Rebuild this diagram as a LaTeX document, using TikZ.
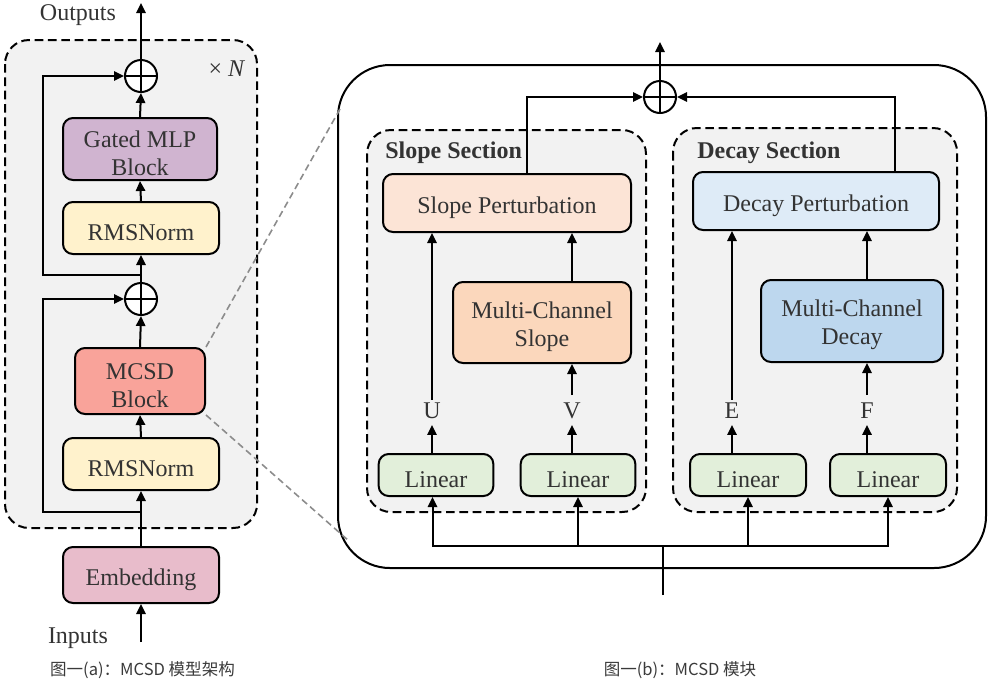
\documentclass[tikz,border=0pt]{standalone}
\usepackage{fontspec}
\setmainfont{Liberation Serif}
\newfontfamily\cjk{Noto Sans CJK SC}
\usetikzlibrary{arrows.meta}
\definecolor{txtgray}{HTML}{333333}
\definecolor{capgray}{HTML}{3A3A3A}
\definecolor{secgray}{HTML}{F2F2F2}
\definecolor{zoomgray}{HTML}{8C8C8C}
\definecolor{embpink}{HTML}{E8BCCB}
\definecolor{normyellow}{HTML}{FFF2CC}
\definecolor{mcsdred}{HTML}{F9A39A}
\definecolor{mlppurple}{HTML}{D0B4D0}
\definecolor{slopelight}{HTML}{FCE4D6}
\definecolor{slopedark}{HTML}{FBD7BC}
\definecolor{decaylight}{HTML}{DEEBF7}
\definecolor{decaydark}{HTML}{BDD7EE}
\definecolor{lingreen}{HTML}{E2EFDA}
\newcommand{\topstrut}{\rule{0pt}{18.5pt}}
\tikzset{
  blk/.style={draw, line width=1.5pt, rounded corners=7.5pt, align=center, text=txtgray,
    font=\fontsize{18}{21}\selectfont, inner sep=0pt,
    execute at begin node={\rule{0pt}{19.5pt}}},
  wire/.style={line width=1.5pt},
  arr/.style={line width=1.5pt, -{Triangle[length=7.5pt,width=7pt]}},
  sect/.style={draw, line width=1.5pt, dash pattern=on 6.5pt off 3.5pt, fill=secgray, rounded corners=18pt},
  plusop/.style={circle, draw, line width=1.5pt, fill=white, minimum size=24pt, inner sep=0pt,
    path picture={\draw[line width=1.5pt] (path picture bounding box.north) -- (path picture bounding box.south)
      (path picture bounding box.west) -- (path picture bounding box.east);}},
  lbl/.style={font=\fontsize{18}{21}\selectfont, text=txtgray, text height=12pt, text depth=0pt,
    inner xsep=2pt, inner ysep=5pt},
  sectitle/.style={font=\fontsize{18}{21}\selectfont\bfseries, text=txtgray, inner sep=0pt, anchor=west},
  zoomline/.style={draw=zoomgray, line width=1.2pt, dash pattern=on 5pt off 3pt},
  capt/.style={font=\cjk\fontsize{12.4}{14}\selectfont, text=capgray, inner sep=0pt},
}
\begin{document}
\begin{tikzpicture}[x=0.75pt,y=-0.75pt]
  \useasboundingbox (0,0) rectangle (991,683);

  % left: model
  \draw[sect] (5,40) rectangle (257,528);
  \node[lbl] (times) at (227,68) {× \textit{N}};

  \node[blk, fill=embpink, minimum width=117pt, minimum height=42pt] (emb) at (141,575) {Embedding};
  \node[blk, fill=normyellow, minimum width=117pt, minimum height=39pt] (rmsa) at (141,464) {RMSNorm};
  \node[blk, fill=mcsdred, minimum width=97.5pt, minimum height=49.5pt] (mcsd) at (140,381) {\topstrut MCSD\\Block};
  \node[plusop] (plusa) at (141,299) {};
  \node[blk, fill=normyellow, minimum width=117pt, minimum height=39pt] (rmsb) at (141,228) {RMSNorm};
  \node[blk, fill=mlppurple, minimum width=115.5pt, minimum height=46.5pt] (mlp) at (140,149) {\topstrut Gated MLP\\Block};
  \node[plusop] (plusb) at (141,76) {};

  \node[lbl] (inputs) at (78,635) {Inputs};
  \node[lbl] (outputs) at (78,12) {Outputs};
  \coordinate (inl) at (141,642);
  \coordinate (outl) at (141,3);
  \coordinate (resa) at (141,512);
  \coordinate (resal) at (43,512);
  \coordinate (resb) at (141,275);
  \coordinate (resbl) at (43,275);

  \draw[arr] (inl) -- (emb.south);
  \draw[arr] (emb.north) -- (rmsa.south);
  \draw[arr] (rmsa.north) -- (mcsd.south);
  \draw[arr] (mcsd.north) -- (plusa.south);
  \draw[arr] (resa) -- (resal) |- (plusa.west);
  \draw[arr] (plusa.north) -- (rmsb.south);
  \draw[arr] (rmsb.north) -- (mlp.south);
  \draw[arr] (mlp.north) -- (plusb.south);
  \draw[arr] (resb) -- (resbl) |- (plusb.west);
  \draw[arr] (plusb.north) -- (outl);

  \node[capt] (capa) at (142.5,670) {图一(a)：MCSD 模型架构};

  % right: MCSD block
  \draw[line width=1.5pt, rounded corners=39pt] (338,65) rectangle (986,568);
  \coordinate (zoomtop) at (340,109);
  \coordinate (zoombot) at (349,541);
  \draw[zoomline] (mcsd.north east) -- (zoomtop);
  \draw[zoomline] (mcsd.south east) -- (zoombot);

  \draw[sect] (367,130) rectangle (646,512);
  \draw[sect] (673,128) rectangle (957,512);
  \node[sectitle] (slopet) at (385,152.5) {Slope Section};
  \node[sectitle] (decayt) at (697,152.5) {Decay Section};

  \node[blk, fill=slopelight, minimum width=186pt, minimum height=43.5pt] (sp) at (507,203) {Slope Perturbation};
  \node[blk, fill=slopedark, minimum width=133.5pt, minimum height=60.75pt] (mcs) at (542,322.5) {\topstrut Multi-Channel\\Slope};
  \node[blk, fill=decaylight, minimum width=184.5pt, minimum height=43.5pt] (dp) at (816,201) {Decay Perturbation};
  \node[blk, fill=decaydark, minimum width=136.5pt, minimum height=61.5pt] (mcd) at (852,321) {\topstrut Multi-Channel\\Decay};

  \node[blk, fill=lingreen, minimum width=86pt, minimum height=31.5pt] (lina) at (436,475) {Linear};
  \node[blk, fill=lingreen, minimum width=86pt, minimum height=31.5pt] (linb) at (578,475) {Linear};
  \node[blk, fill=lingreen, minimum width=87pt, minimum height=31.5pt] (linc) at (748,475) {Linear};
  \node[blk, fill=lingreen, minimum width=87pt, minimum height=31.5pt] (lind) at (888,475) {Linear};

  \node[lbl] (lu) at (432,410) {U};
  \node[lbl] (lv) at (572,410) {V};
  \node[lbl] (le) at (732,410) {E};
  \node[lbl] (lf) at (867,410) {F};

  \draw[arr] (lina.north -| lu) -- (lu.south);
  \draw[arr] (linb.north -| lv) -- (lv.south);
  \draw[arr] (linc.north -| le) -- (le.south);
  \draw[arr] (lind.north -| lf) -- (lf.south);
  \draw[arr] ([yshift=-3.5pt]lu.north) -- (lu.north |- sp.south);
  \draw[arr] (lv.north) -- (lv.north |- mcs.south);
  \draw[arr] (mcs.north -| lv) -- (sp.south -| lv);
  \draw[arr] ([yshift=-3.5pt]le.north) -- (le.north |- dp.south);
  \draw[arr] (lf.north) -- (lf.north |- mcd.south);
  \draw[arr] (mcd.north -| lf) -- (dp.south -| lf);

  \node[plusop] (plusc) at (660,97) {};
  \coordinate (outr) at (660,42);
  \draw[arr] (plusc.north) -- (outr);
  \draw[arr] ([xshift=15pt]sp.north) |- (plusc.west);
  \draw[arr] ([xshift=59.25pt]dp.north) |- (plusc.east);

  \coordinate (busin) at (663,595);
  \coordinate (bus) at (663,546);
  \draw[wire] (busin) -- (bus);
  \draw[arr] (bus) -| ([xshift=-2.6pt]lina.south);
  \draw[arr] (bus) -| (linb.south);
  \draw[arr] (bus) -| (linc.south);
  \draw[arr] (bus) -| (lind.south);

  \node[capt] (capb) at (680,670) {图一(b)：MCSD 模块};
\end{tikzpicture}
\end{document}
